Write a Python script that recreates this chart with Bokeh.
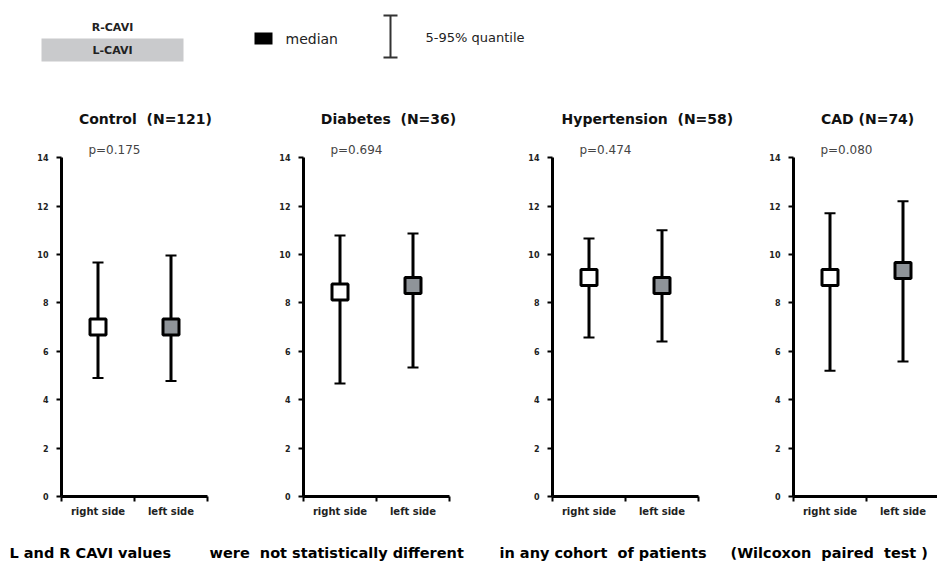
from bokeh.plotting import figure
from bokeh.layouts import row, column
from bokeh.models import Range1d, FixedTicker, Label, ColumnDataSource
from bokeh.core.properties import value
from bokeh.embed import file_html
from bokeh.resources import INLINE

# ---------------- data ----------------
groups = ["Control", "Diabetes", "Hypertension", "CAD"]
n_patients = [121, 36, 58, 74]
p_values = ["0.175", "0.694", "0.474", "0.080"]
sides = ["right side", "left side"]

right_median = [7.0, 8.45, 9.05, 9.05]
right_low = [4.9, 4.67, 6.57, 5.2]
right_high = [9.67, 10.78, 10.66, 11.7]

left_median = [7.0, 8.72, 8.72, 9.34]
left_low = [4.77, 5.33, 6.4, 5.58]
left_high = [9.96, 10.87, 11.0, 12.2]

y_ticks = [0, 2, 4, 6, 8, 10, 12, 14]
footer_parts = ["L and R CAVI values", "were\u00a0 not statistically different",
                "in any cohort\u00a0 of patients", "(Wilcoxon\u00a0 paired\u00a0 test )"]

FONT = "DejaVu Sans"
GRAY_BOX = "#8f9499"
NB = "\u00a0"

# ---------------- layout (pixels) ----------------
left_borders = [61, 53, 53, 53]
frame_widths = [189, 196, 188, 144]
px_per_x = 36.5
title_x = [2.3, 2.33, 2.6, 2.03]
title_texts = ["Control" + NB + " (N={})", "Diabetes" + NB + " (N={})",
               "Hypertension" + NB + " (N={})", "CAD (N={})"]

panels = []
for i, g in enumerate(groups):
    xmax = frame_widths[i] / px_per_x
    p = figure(frame_width=frame_widths[i], frame_height=396,
               output_backend="svg", toolbar_location=None,
               x_range=Range1d(0, xmax), y_range=Range1d(0, 16.36),
               min_border_left=left_borders[i], min_border_right=0,
               min_border_top=0, min_border_bottom=24)
    p.grid.visible = False
    p.outline_line_color = None
    p.background_fill_color = "white"

    # y axis
    p.yaxis.ticker = FixedTicker(ticks=y_ticks)
    p.yaxis.bounds = (0, 14)
    p.yaxis.axis_line_width = 3
    p.yaxis.axis_line_color = "black"
    p.yaxis.major_tick_line_width = 2
    p.yaxis.major_tick_out = 5
    p.yaxis.major_tick_in = 0
    p.yaxis.minor_tick_line_color = None
    p.yaxis.major_label_text_font = FONT
    p.yaxis.major_label_text_font_size = "8px"
    p.yaxis.major_label_text_font_style = "bold"
    p.yaxis.major_label_text_color = "#222222"
    p.yaxis.major_label_standoff = 8

    # x axis
    p.xaxis.ticker = FixedTicker(ticks=[1, 3], minor_ticks=[0, 2, 4])
    p.xaxis.bounds = (0, 4)
    p.xaxis.major_label_overrides = {1: sides[0], 3: sides[1]}
    p.xaxis.axis_line_width = 3
    p.xaxis.axis_line_color = "black"
    p.xaxis.major_tick_line_color = None
    p.xaxis.minor_tick_line_width = 2
    p.xaxis.minor_tick_out = 5
    p.xaxis.minor_tick_in = 0
    p.xaxis.major_label_text_font = FONT
    p.xaxis.major_label_text_font_size = "10px"
    p.xaxis.major_label_text_font_style = "bold"
    p.xaxis.major_label_text_color = "#222222"
    p.xaxis.major_label_standoff = 3

    src = ColumnDataSource(dict(
        x=[1, 3],
        med=[right_median[i], left_median[i]],
        lo=[right_low[i], left_low[i]],
        hi=[right_high[i], left_high[i]],
        fill=["white", GRAY_BOX],
    ))
    p.segment(x0="x", y0="lo", x1="x", y1="hi", source=src, line_width=3, line_color="black")
    # caps
    p.scatter(x="x", y="hi", source=src, marker="dash", size=11, line_width=2, line_color="black")
    p.scatter(x="x", y="lo", source=src, marker="dash", size=11, line_width=2, line_color="black")
    p.scatter(x="x", y="med", source=src, marker="square", size=16,
              fill_color="fill", line_color="black", line_width=3)

    p.add_layout(Label(x=title_x[i], y=15.6, text=title_texts[i].format(n_patients[i]),
                       text_align="center", text_baseline="middle", text_font=FONT,
                       text_font_size="14px", text_font_style="bold", text_color="#111111"))
    p.add_layout(Label(x=1.45, y=14.33, text="p=" + p_values[i],
                       text_align="center", text_baseline="middle", text_font=FONT,
                       text_font_size="12px", text_color="#444444"))
    panels.append(p)

# ---------------- top legend ----------------
top = figure(width=937, height=100, output_backend="svg", toolbar_location=None,
             x_range=Range1d(0, 937), y_range=Range1d(100, 0),
             min_border=0)
top.axis.visible = False
top.grid.visible = False
top.outline_line_color = None
top.quad(left=[41], right=[183], top=[38], bottom=[61], fill_color="#c9cacc", line_color=None)
top.text(x=[112], y=[27], text=["R-CAVI"], text_align="center", text_baseline="middle",
         text_font=value(FONT), text_font_size="11px", text_font_style="bold", text_color="#222222")
top.text(x=[112], y=[50], text=["L-CAVI"], text_align="center", text_baseline="middle",
         text_font=value(FONT), text_font_size="11px", text_font_style="bold", text_color="#222222")
top.quad(left=[254], right=[272], top=[32], bottom=[44], fill_color="black", line_color=None)
top.text(x=[285], y=[38], text=["median"], text_align="left", text_baseline="middle",
         text_font=value(FONT), text_font_size="14px", text_color="#222222")
top.segment(x0=[390], y0=[15], x1=[390], y1=[57], line_width=2, line_color="#333333")
top.segment(x0=[383], y0=[15], x1=[397], y1=[15], line_width=2, line_color="#333333")
top.segment(x0=[383], y0=[57], x1=[397], y1=[57], line_width=2, line_color="#333333")
top.text(x=[425], y=[37], text=["5-95% quantile"], text_align="left", text_baseline="middle",
         text_font=value(FONT), text_font_size="13px", text_color="#222222")

# ---------------- footer ----------------
foot = figure(width=937, height=51, output_backend="svg", toolbar_location=None,
              x_range=Range1d(0, 937), y_range=Range1d(51, 0), min_border=0)
foot.axis.visible = False
foot.grid.visible = False
foot.outline_line_color = None
foot.text(x=[9, 209, 499, 730], y=[32, 32, 32, 32], text=footer_parts,
          text_align="left", text_baseline="middle",
          text_font=value(FONT), text_font_size="14.5px", text_font_style="bold", text_color="black")

layout = column(top, row(*panels), foot)
open("out.html", "w").write(file_html(layout, INLINE))
